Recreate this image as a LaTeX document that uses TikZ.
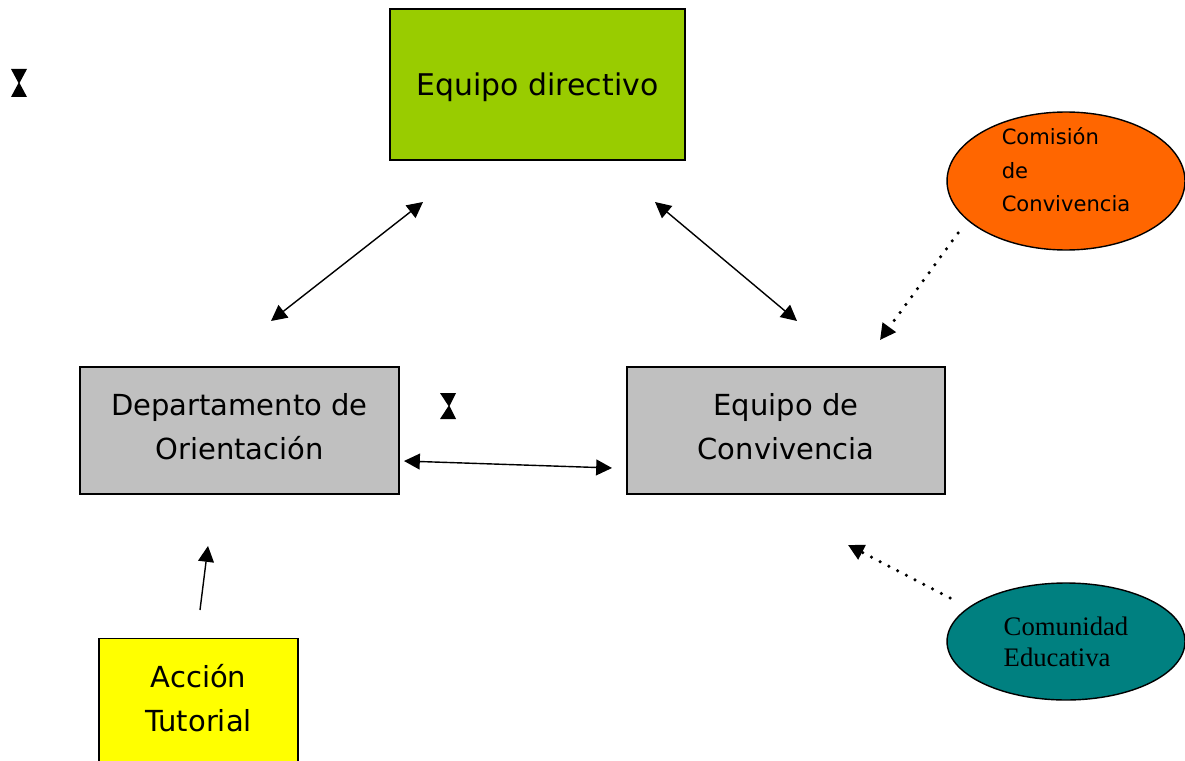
\documentclass[tikz,border=0pt]{standalone}
\usepackage{fontspec}
\setmainfont{DejaVu Sans}
\newfontfamily\timesfont{Liberation Serif}
\usetikzlibrary{shapes.geometric,arrows.meta}

\definecolor{dirgreen}{HTML}{99CC00}
\definecolor{boxgray}{HTML}{C0C0C0}
\definecolor{comorange}{HTML}{FF6600}
\definecolor{comuteal}{HTML}{008080}
\definecolor{tutyellow}{HTML}{FFFF00}

\begin{document}
\begin{tikzpicture}[x=0.02cm, y=-0.02cm,
    box/.style={draw=black, line width=0.8pt, inner sep=0pt, align=center,
      font=\fontsize{16.5}{25}\selectfont},
    oval/.style={ellipse, draw=black, line width=0.8pt, inner sep=0pt,
      minimum width=4.76cm},
    link/.style={line width=0.8pt, {Triangle[length=9pt,width=9pt]}-{Triangle[length=9pt,width=9pt]}},
    feed/.style={line width=2pt, line cap=round, dash pattern=on 0pt off 5.6pt,
      -{Triangle[length=9pt,width=9pt]}}]
    \useasboundingbox (0,0) rectangle (1185,760);
    % boxes
    \node [box, fill=dirgreen, minimum width=5.9cm, minimum height=3.02cm,
      font=\fontsize{17}{25}\selectfont, text depth=0pt] (dir) at (537.5,84.5) {Equipo directivo};
    \node [box, fill=boxgray, minimum width=6.38cm, minimum height=2.54cm, text depth=5pt] (dep) at (239.5,430.5) {Departamento de\\Orientación};
    \node [box, fill=boxgray, minimum width=6.36cm, minimum height=2.54cm, text depth=5pt] (conv) at (786,430.5) {Equipo de\\Convivencia};
    \node [box, fill=tutyellow, minimum width=3.98cm, minimum height=2.84cm, anchor=north] (tut) at (198.5,638) {};
    \node [box, draw=none] (tuttext) at (198.5,698) {Acción\\Tutorial};
    % ovals
    \node [oval, fill=comorange, minimum height=2.76cm] (com) at (1066,181) {};
    \node [align=left, inner sep=0pt, font=\fontsize{12}{19}\selectfont] (comtext) at (1066,170) {Comisión\\de\\Convivencia};
    \node [oval, fill=comuteal, minimum height=2.34cm, align=left,
      font=\timesfont\fontsize{15.2}{17.5}\selectfont] (comu) at (1066,641.5) {Comunidad\\Educativa};
    % arrow ends
    \coordinate (dirL) at (423,202);
    \coordinate (depT) at (271,321);
    \coordinate (dirR) at (655,202);
    \coordinate (convT) at (797,321);
    \coordinate (depR) at (404,461);
    \coordinate (convL) at (612,468);
    \coordinate (tutT) at (200,610);
    \coordinate (depB) at (208,546);
    \coordinate (comS) at (958,233);
    \coordinate (convTR) at (880,340);
    \coordinate (comuW) at (950,598);
    \coordinate (convB) at (848,545);
    % connectors
    \draw [link] (dirL) -- (depT);
    \draw [link] (dirR) -- (convT);
    \draw [link] (depR) -- (convL);
    \draw [line width=0.8pt, -{Triangle[length=9pt,width=9pt]}] (tutT) -- (depB);
    \draw [feed] (comS) -- (convTR);
    \draw [feed] (comuW) -- (convB);
    % hourglasses
    \fill [black] (11,69) -- (27,69) -- (19.5,83) -- (27,97) -- (11,97) -- (18.5,83) -- cycle;
    \fill [black] (440,393) -- (456,393) -- (449.5,406) -- (456,419) -- (440,419) -- (448.5,406) -- cycle;
\end{tikzpicture}
\end{document}
